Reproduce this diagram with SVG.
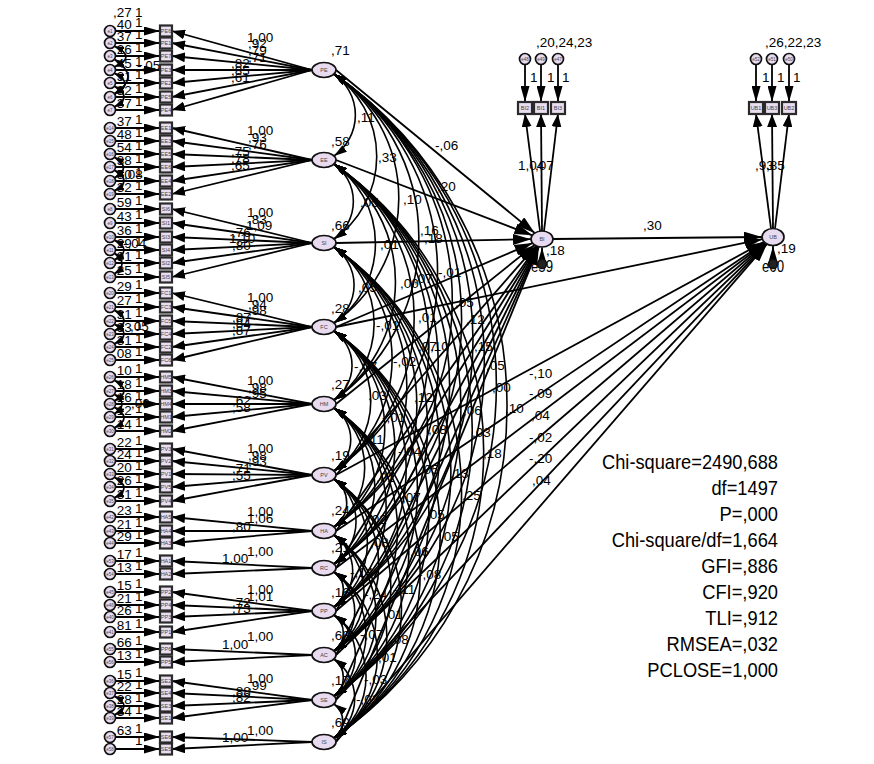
<svg xmlns="http://www.w3.org/2000/svg" width="874" height="764" viewBox="0 0 874 764">
<style>
  .ln path{stroke:#000;stroke-width:1.8;fill:none}
  #err-paths path{marker-end:url(#ahe)}
  #load-paths path{marker-end:url(#ahl)}
  #struct-paths path{marker-end:url(#ahb)}
  #cov-paths path{stroke-width:1.6;marker-start:url(#ahc);marker-end:url(#ahc)}
  #ecov-paths path{stroke-width:1.7;marker-start:url(#ahs);marker-end:url(#ahs)}
  .lat ellipse,.err circle{fill:#e8dbf0;stroke:#111;stroke-width:1.7}
  .obs rect{fill:#e9ddf0;stroke:#2a2a2a;stroke-width:2.2}
  .nt{font-family:"Liberation Sans",Arial,sans-serif;font-size:5.5px;fill:#444;text-anchor:middle}
  .et{font-family:"Liberation Sans",Arial,sans-serif;font-size:4.5px;fill:#444;text-anchor:middle}
  .lb text{font-family:"Liberation Sans Narrow","Arial Narrow","Liberation Sans",Arial,sans-serif;font-size:13.5px;fill:#000}
  .st text{font-family:"Liberation Sans",Arial,sans-serif;font-size:21px;fill:#000;text-anchor:end}
  .big{font-family:"Liberation Sans",Arial,sans-serif;font-size:17px;fill:#000}
</style>
<defs>
  <marker id="ahe" viewBox="0 0 16 9" refX="16" refY="4.5" markerWidth="16" markerHeight="9" markerUnits="userSpaceOnUse" orient="auto"><path d="M0,0L16,4.5L0,9z"/></marker>
  <marker id="ahl" viewBox="0 0 13 10" refX="13" refY="5" markerWidth="13" markerHeight="10" markerUnits="userSpaceOnUse" orient="auto"><path d="M0,0L13,5L0,10z"/></marker>
  <marker id="ahb" viewBox="0 0 18 11" refX="18" refY="5.5" markerWidth="18" markerHeight="11" markerUnits="userSpaceOnUse" orient="auto"><path d="M0,0L18,5.5L0,11z"/></marker>
  <marker id="ahc" viewBox="0 0 13 8" refX="13" refY="4" markerWidth="13" markerHeight="8" markerUnits="userSpaceOnUse" orient="auto-start-reverse"><path d="M0,0L13,4L0,8z"/></marker>
  <marker id="ahs" viewBox="0 0 10 7" refX="10" refY="3.5" markerWidth="10" markerHeight="7" markerUnits="userSpaceOnUse" orient="auto-start-reverse"><path d="M0,0L10,3.5L0,7z"/></marker>
</defs>
<rect width="874" height="764" fill="#fff"/>

<g id="connectors" class="ln">
  <!-- error terms into indicators -->
  <g id="err-paths">
    <path d="M115.5,31H160"/><path d="M115.5,43H160"/><path d="M115.5,56H160"/><path d="M115.5,70H160"/><path d="M115.5,83H160"/><path d="M115.5,97H160"/><path d="M115.5,110H160"/>
    <path d="M115.5,128H160"/><path d="M115.5,141H160"/><path d="M115.5,154H160"/><path d="M115.5,167H160"/><path d="M115.5,181H160"/><path d="M115.5,194H160"/>
    <path d="M115.5,209H160"/><path d="M115.5,223H160"/><path d="M115.5,237H160"/><path d="M115.5,250H160"/><path d="M115.5,263H160"/><path d="M115.5,277H160"/>
    <path d="M115.5,293H160"/><path d="M115.5,307H160"/><path d="M115.5,321H160"/><path d="M115.5,334H160"/><path d="M115.5,347H160"/><path d="M115.5,360H160"/>
    <path d="M115.5,377H160"/><path d="M115.5,391H160"/><path d="M115.5,404H160"/><path d="M115.5,417H160"/><path d="M115.5,431H160"/>
    <path d="M115.5,449H160"/><path d="M115.5,461H160"/><path d="M115.5,474H160"/><path d="M115.5,487H160"/><path d="M115.5,501H160"/>
    <path d="M115.5,517H160"/><path d="M115.5,531H160"/><path d="M115.5,543H160"/>
    <path d="M115.5,561H160"/><path d="M115.5,574H160"/>
    <path d="M115.5,592H160"/><path d="M115.5,605H160"/><path d="M115.5,617H160"/><path d="M115.5,632H160"/>
    <path d="M115.5,649H160"/><path d="M115.5,662H160"/>
    <path d="M115.5,681H160"/><path d="M115.5,693H160"/><path d="M115.5,706H160"/><path d="M115.5,718H160"/>
    <path d="M115.5,737H160"/><path d="M115.5,749H160"/>
    <path d="M525,64.5V102"/><path d="M541,64.5V102"/><path d="M558,64.5V102"/>
    <path d="M756,64.5V102"/><path d="M772,64.5V102"/><path d="M789,64.5V102"/>
    <path d="M542,259.5V247.5"/><path d="M773,259.5V246"/>
  </g>
  <!-- factor loadings -->
  <g id="load-paths">
    <path d="M312,70L172,31"/><path d="M312,70L172,43"/><path d="M312,70L172,56"/><path d="M312,70L172,70"/><path d="M312,70L172,83"/><path d="M312,70L172,97"/><path d="M312,70L172,110"/>
    <path d="M312,160L172,128"/><path d="M312,160L172,141"/><path d="M312,160L172,154"/><path d="M312,160L172,167"/><path d="M312,160L172,181"/><path d="M312,160L172,194"/>
    <path d="M312,243L172,209"/><path d="M312,243L172,223"/><path d="M312,243L172,237"/><path d="M312,243L172,250"/><path d="M312,243L172,263"/><path d="M312,243L172,277"/>
    <path d="M312,327L172,293"/><path d="M312,327L172,307"/><path d="M312,327L172,321"/><path d="M312,327L172,334"/><path d="M312,327L172,347"/><path d="M312,327L172,360"/>
    <path d="M312,404L172,377"/><path d="M312,404L172,391"/><path d="M312,404L172,404"/><path d="M312,404L172,417"/><path d="M312,404L172,431"/>
    <path d="M312,475L172,449"/><path d="M312,475L172,461"/><path d="M312,475L172,474"/><path d="M312,475L172,487"/><path d="M312,475L172,501"/>
    <path d="M312,531L172,517"/><path d="M312,531L172,531"/><path d="M312,531L172,543"/>
    <path d="M312,568L172,561"/><path d="M312,568L172,574"/>
    <path d="M312,611L172,592"/><path d="M312,611L172,605"/><path d="M312,611L172,617"/><path d="M312,611L172,632"/>
    <path d="M312,655L172,649"/><path d="M312,655L172,662"/>
    <path d="M312,700L172,681"/><path d="M312,700L172,693"/><path d="M312,700L172,706"/><path d="M312,700L172,718"/>
    <path d="M312,742L172,737"/><path d="M312,742L172,749"/>
    <path d="M540,231L525,114"/><path d="M542,231L541,114"/><path d="M544,231L558,114"/>
    <path d="M771,228.5L756,114"/><path d="M773,228.5L772,114"/><path d="M775,228.5L789,114"/>
  </g>
  <!-- structural paths -->
  <g id="struct-paths">
    <path d="M336,70L534.7,233"/><path d="M336,160L532.3,235.3"/><path d="M336,243L531,239.2"/><path d="M336,327L532.5,243.1"/>
    <path d="M336,404L534.6,244.9"/><path d="M336,475L536.1,245.8"/><path d="M336,531L537,246.1"/><path d="M336,568L537.4,246.3"/>
    <path d="M336,611L537.9,246.4"/><path d="M336,655L538.3,246.5"/><path d="M336,700L538.6,246.6"/><path d="M336,742L538.9,246.7"/>
    <path d="M336,327L762.4,239.2"/><path d="M336,475L764,241.9"/><path d="M336,531L764.7,242.6"/><path d="M336,568L765.1,243"/>
    <path d="M336,611L765.6,243.3"/><path d="M336,655L766.1,243.6"/><path d="M336,700L766.5,243.9"/><path d="M336,742L766.9,244.1"/>
    <path d="M553,239L762,237"/>
  </g>
  <!-- covariances among exogenous factors -->
  <g id="cov-paths">
    <path d="M334,74A50,50 0 0 1 334,156"/><path d="M334,74A101,101 0 0 1 334,239"/><path d="M334,74A152,152 0 0 1 334,323"/><path d="M334,74A199,199 0 0 1 334,400"/>
    <path d="M334,74A242,242 0 0 1 334,471"/><path d="M334,74A276,276 0 0 1 334,527"/><path d="M334,74A299,299 0 0 1 334,564"/><path d="M334,74A325,325 0 0 1 334,607"/>
    <path d="M334,74A352,352 0 0 1 334,651"/><path d="M334,74A379,379 0 0 1 334,696"/><path d="M334,74A405,405 0 0 1 334,738"/>
    <path d="M334,164A46,46 0 0 1 334,239"/><path d="M334,164A97,97 0 0 1 334,323"/><path d="M334,164A144,144 0 0 1 334,400"/><path d="M334,164A187,187 0 0 1 334,471"/>
    <path d="M334,164A221,221 0 0 1 334,527"/><path d="M334,164A244,244 0 0 1 334,564"/><path d="M334,164A270,270 0 0 1 334,607"/><path d="M334,164A297,297 0 0 1 334,651"/>
    <path d="M334,164A325,325 0 0 1 334,696"/><path d="M334,164A350,350 0 0 1 334,738"/>
    <path d="M334,247A46,46 0 0 1 334,323"/><path d="M334,247A93,93 0 0 1 334,400"/><path d="M334,247A137,137 0 0 1 334,471"/><path d="M334,247A171,171 0 0 1 334,527"/>
    <path d="M334,247A193,193 0 0 1 334,564"/><path d="M334,247A220,220 0 0 1 334,607"/><path d="M334,247A246,246 0 0 1 334,651"/><path d="M334,247A274,274 0 0 1 334,696"/>
    <path d="M334,247A300,300 0 0 1 334,738"/>
    <path d="M334,331A42,42 0 0 1 334,400"/><path d="M334,331A85,85 0 0 1 334,471"/><path d="M334,331A120,120 0 0 1 334,527"/><path d="M334,331A142,142 0 0 1 334,564"/>
    <path d="M334,331A168,168 0 0 1 334,607"/><path d="M334,331A195,195 0 0 1 334,651"/><path d="M334,331A223,223 0 0 1 334,696"/><path d="M334,331A248,248 0 0 1 334,738"/>
    <path d="M334,408A38,38 0 0 1 334,471"/><path d="M334,408A73,73 0 0 1 334,527"/><path d="M334,408A95,95 0 0 1 334,564"/><path d="M334,408A121,121 0 0 1 334,607"/>
    <path d="M334,408A148,148 0 0 1 334,651"/><path d="M334,408A176,176 0 0 1 334,696"/><path d="M334,408A201,201 0 0 1 334,738"/>
    <path d="M334,479A29,29 0 0 1 334,527"/><path d="M334,479A52,52 0 0 1 334,564"/><path d="M334,479A78,78 0 0 1 334,607"/><path d="M334,479A105,105 0 0 1 334,651"/>
    <path d="M334,479A132,132 0 0 1 334,696"/><path d="M334,479A158,158 0 0 1 334,738"/>
    <path d="M334,535A18,18 0 0 1 334,564"/><path d="M334,535A44,44 0 0 1 334,607"/><path d="M334,535A71,71 0 0 1 334,651"/><path d="M334,535A98,98 0 0 1 334,696"/>
    <path d="M334,535A124,124 0 0 1 334,738"/>
    <path d="M334,572A21,21 0 0 1 334,607"/><path d="M334,572A48,48 0 0 1 334,651"/><path d="M334,572A76,76 0 0 1 334,696"/><path d="M334,572A101,101 0 0 1 334,738"/>
    <path d="M334,615A22,22 0 0 1 334,651"/><path d="M334,615A49,49 0 0 1 334,696"/><path d="M334,615A75,75 0 0 1 334,738"/>
    <path d="M334,659A23,23 0 0 1 334,696"/><path d="M334,659A48,48 0 0 1 334,738"/>
    <path d="M334,704A21,21 0 0 1 334,738"/>
  </g>
  <!-- correlated error terms -->
  <g id="ecov-paths">
    <path d="M114,46Q138,57 114,67"/><path d="M114,59Q142,77 114,94"/><path d="M114,73Q136,84 114,94"/><path d="M114,86Q134,97 114,107"/>
    <path d="M114,157Q133,168 114,178"/><path d="M114,170Q134,181 114,191"/>
    <path d="M114,240Q134,250 114,260"/><path d="M114,253Q130,264 114,274"/>
    <path d="M114,310Q134,321 114,331"/><path d="M114,324Q134,334 114,344"/>
    <path d="M114,380Q134,391 114,401"/><path d="M114,394Q130,404 114,414"/><path d="M114,407Q134,418 114,428"/>
    <path d="M114,477Q134,488 114,498"/>
    <path d="M114,696Q134,706 114,715"/>
  </g>
</g>

<g id="labels" class="lb">
  <!-- error variances and fixed weights -->
  <text x="113" y="17">,27</text><text x="135" y="17">1</text>
  <text x="113" y="29">,40</text><text x="113" y="41">,37</text><text x="113" y="54">,26</text><text x="113" y="68">,45</text><text x="113" y="81">,31</text><text x="113" y="95">,32</text><text x="113" y="108">,37</text>
  <text x="113" y="126">,37</text><text x="113" y="139">,48</text><text x="113" y="152">,54</text><text x="113" y="165">,38</text><text x="113" y="179">,50</text><text x="113" y="192">,32</text>
  <text x="113" y="207">,59</text><text x="113" y="221">,43</text><text x="113" y="235">,36</text><text x="113" y="248">,29</text><text x="113" y="261">,31</text><text x="113" y="275">,25</text>
  <text x="113" y="291">,29</text><text x="113" y="305">,27</text><text x="113" y="319">,31</text><text x="113" y="332">,33</text><text x="113" y="345">,31</text><text x="113" y="358">,08</text>
  <text x="113" y="375">,10</text><text x="113" y="389">,18</text><text x="113" y="402">,16</text><text x="113" y="415">,12</text><text x="113" y="429">,14</text>
  <text x="113" y="447">,22</text><text x="113" y="459">,24</text><text x="113" y="472">,20</text><text x="113" y="485">,26</text><text x="113" y="499">,31</text>
  <text x="113" y="515">,23</text><text x="113" y="529">,21</text><text x="113" y="541">,29</text>
  <text x="113" y="559">,17</text><text x="113" y="572">,13</text>
  <text x="113" y="590">,15</text><text x="113" y="603">,21</text><text x="113" y="615">,26</text><text x="113" y="630">,81</text>
  <text x="113" y="647">,66</text><text x="113" y="660">,13</text>
  <text x="113" y="679">,15</text><text x="113" y="691">,22</text><text x="113" y="704">,28</text><text x="113" y="716">,34</text>
  <text x="113" y="735">,63</text>
  <text x="135" y="27">1</text><text x="135" y="39">1</text><text x="135" y="52">1</text><text x="135" y="66">1</text><text x="135" y="79">1</text><text x="135" y="93">1</text><text x="135" y="106">1</text>
  <text x="135" y="124">1</text><text x="135" y="137">1</text><text x="135" y="150">1</text><text x="135" y="163">1</text><text x="135" y="177">1</text><text x="135" y="190">1</text>
  <text x="135" y="205">1</text><text x="135" y="219">1</text><text x="135" y="233">1</text><text x="135" y="246">1</text><text x="135" y="259">1</text><text x="135" y="273">1</text>
  <text x="135" y="289">1</text><text x="135" y="303">1</text><text x="135" y="317">1</text><text x="135" y="330">1</text><text x="135" y="343">1</text><text x="135" y="356">1</text>
  <text x="135" y="373">1</text><text x="135" y="387">1</text><text x="135" y="400">1</text><text x="135" y="413">1</text><text x="135" y="427">1</text>
  <text x="135" y="445">1</text><text x="135" y="457">1</text><text x="135" y="470">1</text><text x="135" y="483">1</text><text x="135" y="497">1</text>
  <text x="135" y="513">1</text><text x="135" y="527">1</text><text x="135" y="539">1</text>
  <text x="135" y="557">1</text><text x="135" y="570">1</text>
  <text x="135" y="588">1</text><text x="135" y="601">1</text><text x="135" y="613">1</text><text x="135" y="628">1</text>
  <text x="135" y="645">1</text><text x="135" y="658">1</text>
  <text x="135" y="677">1</text><text x="135" y="689">1</text><text x="135" y="702">1</text><text x="135" y="714">1</text>
  <text x="135" y="733">1</text><text x="135" y="745">1</text>
  <!-- error covariances -->
  <text x="137" y="70">-,05</text><text x="124" y="179">,08</text><text x="123" y="248">-,04</text><text x="130" y="331">,05</text><text x="131" y="408">,00</text>
  <!-- loadings -->
  <text x="247" y="42">1,00</text><text x="248" y="48">,92</text><text x="248" y="55">,79</text><text x="248" y="62">,71</text><text x="231" y="68">,82</text><text x="231" y="75">,85</text><text x="231" y="82">,61</text>
  <text x="247" y="135">1,00</text><text x="248" y="142">,93</text><text x="248" y="149">,76</text><text x="231" y="156">,75</text><text x="231" y="163">,78</text><text x="231" y="170">,65</text>
  <text x="247" y="217">1,00</text><text x="248" y="224">,83</text><text x="246" y="230">1,09</text><text x="232" y="237">,76</text><text x="229" y="243">1,10</text><text x="232" y="250">,80</text>
  <text x="247" y="302">1,00</text><text x="248" y="309">,94</text><text x="248" y="315">,98</text><text x="232" y="322">,87</text><text x="232" y="328">,84</text><text x="232" y="335">,87</text>
  <text x="247" y="385">1,00</text><text x="248" y="392">,98</text><text x="248" y="398">,95</text><text x="232" y="405">,62</text><text x="232" y="412">,58</text>
  <text x="247" y="453">1,00</text><text x="248" y="460">,98</text><text x="248" y="466">,93</text><text x="232" y="473">,71</text><text x="232" y="480">,55</text>
  <text x="247" y="516">1,00</text><text x="247" y="523">1,06</text><text x="232" y="531">,80</text>
  <text x="247" y="556">1,00</text><text x="222" y="563">1,00</text>
  <text x="247" y="594">1,00</text><text x="247" y="601">1,01</text><text x="232" y="607">,72</text><text x="232" y="613">,73</text>
  <text x="247" y="641">1,00</text><text x="222" y="649">1,00</text>
  <text x="247" y="683">1,00</text><text x="248" y="690">,99</text><text x="232" y="696">,88</text><text x="232" y="702">,82</text>
  <text x="247" y="735">1,00</text><text x="222" y="742">1,00</text>
  <!-- factor variances -->
  <text x="331" y="55">,71</text><text x="331" y="146">,58</text><text x="331" y="230">,66</text><text x="331" y="313">,28</text><text x="331" y="389">,27</text><text x="331" y="460">,19</text>
  <text x="331" y="515">,24</text><text x="331" y="552">,21</text><text x="331" y="597">,16</text><text x="331" y="640">,68</text><text x="331" y="685">,17</text><text x="331" y="727">,69</text>
  <!-- covariances and path coefficients -->
  <text x="357" y="122">,11</text><text x="378" y="162">,33</text><text x="435" y="150">-,06</text><text x="360" y="207">,05</text><text x="403" y="204">,10</text><text x="437" y="191">,20</text>
  <text x="420" y="235">,16</text><text x="424" y="243">,18</text><text x="380" y="249">,01</text><text x="400" y="288">,00</text><text x="414" y="283">,07</text><text x="438" y="277">-,01</text>
  <text x="455" y="307">,05</text><text x="358" y="292">,05</text><text x="418" y="322">,01</text><text x="376" y="330">-,01</text><text x="466" y="324">,12</text><text x="354" y="371">-,07</text>
  <text x="418" y="351">,07</text><text x="430" y="351">,10</text><text x="393" y="366">-,02</text><text x="474" y="351">,15</text><text x="486" y="370">,05</text><text x="492" y="392">,00</text>
  <text x="505" y="413">,10</text><text x="463" y="415">,06</text><text x="472" y="437">,03</text><text x="483" y="458">,18</text><text x="450" y="478">,13</text><text x="462" y="500">,25</text>
  <text x="368" y="400">,03</text><text x="414" y="402">,12</text><text x="382" y="422">-,01</text><text x="428" y="434">,08</text><text x="366" y="444">,11</text><text x="398" y="456">-,04</text>
  <text x="420" y="474">,05</text><text x="376" y="482">,01</text><text x="402" y="502">,07</text><text x="368" y="524">,02</text><text x="426" y="519">,05</text><text x="440" y="541">,05</text>
  <text x="410" y="556">,06</text><text x="418" y="579">-,08</text><text x="370" y="547">,08</text><text x="350" y="577">-,14</text><text x="364" y="599">-,24</text><text x="393" y="594">-,11</text>
  <text x="384" y="619">,01</text><text x="360" y="639">-,07</text><text x="390" y="644">,08</text><text x="378" y="662">,01</text><text x="364" y="684">-,03</text><text x="356" y="704">-,03</text>
  <text x="529" y="378">-,10</text><text x="529" y="398">-,09</text><text x="531" y="420">,04</text><text x="529" y="442">-,02</text><text x="529" y="463">-,20</text><text x="532" y="485">,04</text>
  <text x="643" y="230">,30</text>
  <!-- endogenous part -->
  <text x="536" y="47">,20,24,23</text><text x="530" y="82">1</text><text x="547" y="82">1</text><text x="562" y="82">1</text>
  <text x="518" y="170">1,04</text><text x="535" y="170">,07</text>
  <text x="546" y="255">,18</text>
  <text x="765" y="47">,26,22,23</text><text x="762" y="82">1</text><text x="777" y="82">1</text><text x="793" y="82">1</text>
  <text x="755" y="170">,93</text><text x="766" y="170">,85</text>
  <text x="777" y="253">,19</text>
  <text class="big" x="531" y="272" textLength="22" lengthAdjust="spacingAndGlyphs" style="font-size:17px">e59</text>
  <text class="big" x="762" y="272" textLength="22" lengthAdjust="spacingAndGlyphs" style="font-size:17px">e60</text>
</g>

<g id="fit-stats" class="st">
  <text x="778" y="469" textLength="176" lengthAdjust="spacingAndGlyphs">Chi-square=2490,688</text>
  <text x="778" y="495" textLength="66.6" lengthAdjust="spacingAndGlyphs">df=1497</text>
  <text x="778" y="521" textLength="58.5" lengthAdjust="spacingAndGlyphs">P=,000</text>
  <text x="778" y="547" textLength="166.3" lengthAdjust="spacingAndGlyphs">Chi-square/df=1,664</text>
  <text x="778" y="573" textLength="76.8" lengthAdjust="spacingAndGlyphs">GFI=,886</text>
  <text x="778" y="599" textLength="75.8" lengthAdjust="spacingAndGlyphs">CFI=,920</text>
  <text x="778" y="625" textLength="72.7" lengthAdjust="spacingAndGlyphs">TLI=,912</text>
  <text x="778" y="651" textLength="111.4" lengthAdjust="spacingAndGlyphs">RMSEA=,032</text>
  <text x="778" y="677" textLength="130.7" lengthAdjust="spacingAndGlyphs">PCLOSE=1,000</text>
</g>

<g id="nodes">
  <!-- latent factors -->
  <g id="PE" class="lat"><ellipse cx="324" cy="70" rx="12" ry="7.5"/><text class="nt" x="324" y="72">PE</text></g>
  <g id="EE" class="lat"><ellipse cx="324" cy="160" rx="12" ry="7.5"/><text class="nt" x="324" y="162">EE</text></g>
  <g id="SI" class="lat"><ellipse cx="324" cy="243" rx="12" ry="7.5"/><text class="nt" x="324" y="245">SI</text></g>
  <g id="FC" class="lat"><ellipse cx="324" cy="327" rx="12" ry="7.5"/><text class="nt" x="324" y="329">FC</text></g>
  <g id="HM" class="lat"><ellipse cx="324" cy="404" rx="12" ry="7.5"/><text class="nt" x="324" y="406">HM</text></g>
  <g id="PV" class="lat"><ellipse cx="324" cy="475" rx="12" ry="7.5"/><text class="nt" x="324" y="477">PV</text></g>
  <g id="HA" class="lat"><ellipse cx="324" cy="531" rx="12" ry="7.5"/><text class="nt" x="324" y="533">HA</text></g>
  <g id="RC" class="lat"><ellipse cx="324" cy="568" rx="12" ry="7.5"/><text class="nt" x="324" y="570">RC</text></g>
  <g id="PP" class="lat"><ellipse cx="324" cy="611" rx="12" ry="7.5"/><text class="nt" x="324" y="613">PP</text></g>
  <g id="AC" class="lat"><ellipse cx="324" cy="655" rx="12" ry="7.5"/><text class="nt" x="324" y="657">AC</text></g>
  <g id="SE" class="lat"><ellipse cx="324" cy="700" rx="12" ry="7.5"/><text class="nt" x="324" y="702">SE</text></g>
  <g id="IS" class="lat"><ellipse cx="324" cy="742" rx="12" ry="7.5"/><text class="nt" x="324" y="744">IS</text></g>
  <g id="BI" class="lat"><ellipse cx="542" cy="239" rx="11" ry="8"/><text class="nt" x="542" y="241">BI</text></g>
  <g id="UB" class="lat"><ellipse cx="773" cy="237" rx="11" ry="8.5"/><text class="nt" x="773" y="239">UB</text></g>

  <!-- observed indicators -->
  <g id="PE6" class="obs"><rect x="160" y="25.5" width="12" height="11"/><text class="nt" x="166" y="33">PE6</text></g>
  <g id="PE1" class="obs"><rect x="160" y="37.5" width="12" height="11"/><text class="nt" x="166" y="45">PE1</text></g>
  <g id="PE7" class="obs"><rect x="160" y="50.5" width="12" height="11"/><text class="nt" x="166" y="58">PE7</text></g>
  <g id="PE3" class="obs"><rect x="160" y="64.5" width="12" height="11"/><text class="nt" x="166" y="72">PE3</text></g>
  <g id="PE2" class="obs"><rect x="160" y="77.5" width="12" height="11"/><text class="nt" x="166" y="85">PE2</text></g>
  <g id="PE5" class="obs"><rect x="160" y="91.5" width="12" height="11"/><text class="nt" x="166" y="99">PE5</text></g>
  <g id="PE4" class="obs"><rect x="160" y="104.5" width="12" height="11"/><text class="nt" x="166" y="112">PE4</text></g>
  <g id="EE1" class="obs"><rect x="160" y="122.5" width="12" height="11"/><text class="nt" x="166" y="130">EE1</text></g>
  <g id="EE3" class="obs"><rect x="160" y="135.5" width="12" height="11"/><text class="nt" x="166" y="143">EE3</text></g>
  <g id="EE5" class="obs"><rect x="160" y="148.5" width="12" height="11"/><text class="nt" x="166" y="156">EE5</text></g>
  <g id="EE6" class="obs"><rect x="160" y="161.5" width="12" height="11"/><text class="nt" x="166" y="169">EE6</text></g>
  <g id="EE4" class="obs"><rect x="160" y="175.5" width="12" height="11"/><text class="nt" x="166" y="183">EE4</text></g>
  <g id="EE2" class="obs"><rect x="160" y="188.5" width="12" height="11"/><text class="nt" x="166" y="196">EE2</text></g>
  <g id="SI6" class="obs"><rect x="160" y="203.5" width="12" height="11"/><text class="nt" x="166" y="211">SI6</text></g>
  <g id="SI1" class="obs"><rect x="160" y="217.5" width="12" height="11"/><text class="nt" x="166" y="225">SI1</text></g>
  <g id="SI3" class="obs"><rect x="160" y="231.5" width="12" height="11"/><text class="nt" x="166" y="239">SI3</text></g>
  <g id="SI4" class="obs"><rect x="160" y="244.5" width="12" height="11"/><text class="nt" x="166" y="252">SI4</text></g>
  <g id="SI2" class="obs"><rect x="160" y="257.5" width="12" height="11"/><text class="nt" x="166" y="265">SI2</text></g>
  <g id="SI5" class="obs"><rect x="160" y="271.5" width="12" height="11"/><text class="nt" x="166" y="279">SI5</text></g>
  <g id="FC1" class="obs"><rect x="160" y="287.5" width="12" height="11"/><text class="nt" x="166" y="295">FC1</text></g>
  <g id="FC3" class="obs"><rect x="160" y="301.5" width="12" height="11"/><text class="nt" x="166" y="309">FC3</text></g>
  <g id="FC5" class="obs"><rect x="160" y="315.5" width="12" height="11"/><text class="nt" x="166" y="323">FC5</text></g>
  <g id="FC4" class="obs"><rect x="160" y="328.5" width="12" height="11"/><text class="nt" x="166" y="336">FC4</text></g>
  <g id="FC2" class="obs"><rect x="160" y="341.5" width="12" height="11"/><text class="nt" x="166" y="349">FC2</text></g>
  <g id="FC6" class="obs"><rect x="160" y="354.5" width="12" height="11"/><text class="nt" x="166" y="362">FC6</text></g>
  <g id="HM5" class="obs"><rect x="160" y="371.5" width="12" height="11"/><text class="nt" x="166" y="379">HM5</text></g>
  <g id="HM3" class="obs"><rect x="160" y="385.5" width="12" height="11"/><text class="nt" x="166" y="393">HM3</text></g>
  <g id="HM4" class="obs"><rect x="160" y="398.5" width="12" height="11"/><text class="nt" x="166" y="406">HM4</text></g>
  <g id="HM1" class="obs"><rect x="160" y="411.5" width="12" height="11"/><text class="nt" x="166" y="419">HM1</text></g>
  <g id="HM2" class="obs"><rect x="160" y="425.5" width="12" height="11"/><text class="nt" x="166" y="433">HM2</text></g>
  <g id="PV3" class="obs"><rect x="160" y="443.5" width="12" height="11"/><text class="nt" x="166" y="451">PV3</text></g>
  <g id="PV2" class="obs"><rect x="160" y="455.5" width="12" height="11"/><text class="nt" x="166" y="463">PV2</text></g>
  <g id="PV1" class="obs"><rect x="160" y="468.5" width="12" height="11"/><text class="nt" x="166" y="476">PV1</text></g>
  <g id="PV5" class="obs"><rect x="160" y="481.5" width="12" height="11"/><text class="nt" x="166" y="489">PV5</text></g>
  <g id="PV4" class="obs"><rect x="160" y="495.5" width="12" height="11"/><text class="nt" x="166" y="503">PV4</text></g>
  <g id="HA5" class="obs"><rect x="160" y="511.5" width="12" height="11"/><text class="nt" x="166" y="519">HA5</text></g>
  <g id="HA4" class="obs"><rect x="160" y="525.5" width="12" height="11"/><text class="nt" x="166" y="533">HA4</text></g>
  <g id="HA3" class="obs"><rect x="160" y="537.5" width="12" height="11"/><text class="nt" x="166" y="545">HA3</text></g>
  <g id="HA1" class="obs"><rect x="160" y="555.5" width="12" height="11"/><text class="nt" x="166" y="563">HA1</text></g>
  <g id="HA2" class="obs"><rect x="160" y="568.5" width="12" height="11"/><text class="nt" x="166" y="576">HA2</text></g>
  <g id="PP2" class="obs"><rect x="160" y="586.5" width="12" height="11"/><text class="nt" x="166" y="594">PP2</text></g>
  <g id="PP4" class="obs"><rect x="160" y="599.5" width="12" height="11"/><text class="nt" x="166" y="607">PP4</text></g>
  <g id="PP3" class="obs"><rect x="160" y="611.5" width="12" height="11"/><text class="nt" x="166" y="619">PP3</text></g>
  <g id="PP1" class="obs"><rect x="160" y="626.5" width="12" height="11"/><text class="nt" x="166" y="634">PP1</text></g>
  <g id="PP6" class="obs"><rect x="160" y="643.5" width="12" height="11"/><text class="nt" x="166" y="651">PP6</text></g>
  <g id="PP5" class="obs"><rect x="160" y="656.5" width="12" height="11"/><text class="nt" x="166" y="664">PP5</text></g>
  <g id="SE2" class="obs"><rect x="160" y="675.5" width="12" height="11"/><text class="nt" x="166" y="683">SE2</text></g>
  <g id="SE4" class="obs"><rect x="160" y="687.5" width="12" height="11"/><text class="nt" x="166" y="695">SE4</text></g>
  <g id="SE3" class="obs"><rect x="160" y="700.5" width="12" height="11"/><text class="nt" x="166" y="708">SE3</text></g>
  <g id="SE1" class="obs"><rect x="160" y="712.5" width="12" height="11"/><text class="nt" x="166" y="720">SE1</text></g>
  <g id="SE6" class="obs"><rect x="160" y="731.5" width="12" height="11"/><text class="nt" x="166" y="739">SE6</text></g>
  <g id="SE5" class="obs"><rect x="160" y="743.5" width="12" height="11"/><text class="nt" x="166" y="751">SE5</text></g>
  <g id="BI2" class="obs"><rect x="518" y="102" width="14" height="12"/><text class="nt" x="525" y="110">BI2</text></g>
  <g id="BI1" class="obs"><rect x="534" y="102" width="14" height="12"/><text class="nt" x="541" y="110">BI1</text></g>
  <g id="BI3" class="obs"><rect x="551" y="102" width="14" height="12"/><text class="nt" x="558" y="110">BI3</text></g>
  <g id="UB1" class="obs"><rect x="749" y="102" width="14" height="12"/><text class="nt" x="756" y="110">UB1</text></g>
  <g id="UB3" class="obs"><rect x="765" y="102" width="14" height="12"/><text class="nt" x="772" y="110">UB3</text></g>
  <g id="UB2" class="obs"><rect x="782" y="102" width="14" height="12"/><text class="nt" x="789" y="110">UB2</text></g>

  <!-- error terms -->
  <g id="e1" class="err"><circle cx="110" cy="31" r="5.5"/><text class="et" x="110" y="32.6">e1</text></g>
  <g id="e2" class="err"><circle cx="110" cy="43" r="5.5"/><text class="et" x="110" y="44.6">e2</text></g>
  <g id="e3" class="err"><circle cx="110" cy="56" r="5.5"/><text class="et" x="110" y="57.6">e3</text></g>
  <g id="e4" class="err"><circle cx="110" cy="70" r="5.5"/><text class="et" x="110" y="71.6">e4</text></g>
  <g id="e5" class="err"><circle cx="110" cy="83" r="5.5"/><text class="et" x="110" y="84.6">e5</text></g>
  <g id="e6" class="err"><circle cx="110" cy="97" r="5.5"/><text class="et" x="110" y="98.6">e6</text></g>
  <g id="e7" class="err"><circle cx="110" cy="110" r="5.5"/><text class="et" x="110" y="111.6">e7</text></g>
  <g id="e14" class="err"><circle cx="110" cy="128" r="5.5"/><text class="et" x="110" y="129.6">e14</text></g>
  <g id="e15" class="err"><circle cx="110" cy="141" r="5.5"/><text class="et" x="110" y="142.6">e15</text></g>
  <g id="e16" class="err"><circle cx="110" cy="154" r="5.5"/><text class="et" x="110" y="155.6">e16</text></g>
  <g id="e17" class="err"><circle cx="110" cy="167" r="5.5"/><text class="et" x="110" y="168.6">e17</text></g>
  <g id="e18" class="err"><circle cx="110" cy="181" r="5.5"/><text class="et" x="110" y="182.6">e18</text></g>
  <g id="e19" class="err"><circle cx="110" cy="194" r="5.5"/><text class="et" x="110" y="195.6">e19</text></g>
  <g id="e8" class="err"><circle cx="110" cy="209" r="5.5"/><text class="et" x="110" y="210.6">e8</text></g>
  <g id="e9" class="err"><circle cx="110" cy="223" r="5.5"/><text class="et" x="110" y="224.6">e9</text></g>
  <g id="e10" class="err"><circle cx="110" cy="237" r="5.5"/><text class="et" x="110" y="238.6">e10</text></g>
  <g id="e11" class="err"><circle cx="110" cy="250" r="5.5"/><text class="et" x="110" y="251.6">e11</text></g>
  <g id="e12" class="err"><circle cx="110" cy="263" r="5.5"/><text class="et" x="110" y="264.6">e12</text></g>
  <g id="e13" class="err"><circle cx="110" cy="277" r="5.5"/><text class="et" x="110" y="278.6">e13</text></g>
  <g id="e20" class="err"><circle cx="110" cy="293" r="5.5"/><text class="et" x="110" y="294.6">e20</text></g>
  <g id="e21" class="err"><circle cx="110" cy="307" r="5.5"/><text class="et" x="110" y="308.6">e21</text></g>
  <g id="e22" class="err"><circle cx="110" cy="321" r="5.5"/><text class="et" x="110" y="322.6">e22</text></g>
  <g id="e23" class="err"><circle cx="110" cy="334" r="5.5"/><text class="et" x="110" y="335.6">e23</text></g>
  <g id="e24" class="err"><circle cx="110" cy="347" r="5.5"/><text class="et" x="110" y="348.6">e24</text></g>
  <g id="e25" class="err"><circle cx="110" cy="360" r="5.5"/><text class="et" x="110" y="361.6">e25</text></g>
  <g id="e26" class="err"><circle cx="110" cy="377" r="5.5"/><text class="et" x="110" y="378.6">e26</text></g>
  <g id="e27" class="err"><circle cx="110" cy="391" r="5.5"/><text class="et" x="110" y="392.6">e27</text></g>
  <g id="e28" class="err"><circle cx="110" cy="404" r="5.5"/><text class="et" x="110" y="405.6">e28</text></g>
  <g id="e29" class="err"><circle cx="110" cy="417" r="5.5"/><text class="et" x="110" y="418.6">e29</text></g>
  <g id="e30" class="err"><circle cx="110" cy="431" r="5.5"/><text class="et" x="110" y="432.6">e30</text></g>
  <g id="e31" class="err"><circle cx="110" cy="449" r="5.5"/><text class="et" x="110" y="450.6">e31</text></g>
  <g id="e32" class="err"><circle cx="110" cy="461" r="5.5"/><text class="et" x="110" y="462.6">e32</text></g>
  <g id="e33" class="err"><circle cx="110" cy="474" r="5.5"/><text class="et" x="110" y="475.6">e33</text></g>
  <g id="e34" class="err"><circle cx="110" cy="487" r="5.5"/><text class="et" x="110" y="488.6">e34</text></g>
  <g id="e35" class="err"><circle cx="110" cy="501" r="5.5"/><text class="et" x="110" y="502.6">e35</text></g>
  <g id="e42" class="err"><circle cx="110" cy="517" r="5.5"/><text class="et" x="110" y="518.6">e42</text></g>
  <g id="e43" class="err"><circle cx="110" cy="531" r="5.5"/><text class="et" x="110" y="532.6">e43</text></g>
  <g id="e44" class="err"><circle cx="110" cy="543" r="5.5"/><text class="et" x="110" y="544.6">e44</text></g>
  <g id="e53" class="err"><circle cx="110" cy="561" r="5.5"/><text class="et" x="110" y="562.6">e53</text></g>
  <g id="e54" class="err"><circle cx="110" cy="574" r="5.5"/><text class="et" x="110" y="575.6">e54</text></g>
  <g id="e45" class="err"><circle cx="110" cy="592" r="5.5"/><text class="et" x="110" y="593.6">e45</text></g>
  <g id="e46" class="err"><circle cx="110" cy="605" r="5.5"/><text class="et" x="110" y="606.6">e46</text></g>
  <g id="e40" class="err"><circle cx="110" cy="617" r="5.5"/><text class="et" x="110" y="618.6">e40</text></g>
  <g id="e41" class="err"><circle cx="110" cy="632" r="5.5"/><text class="et" x="110" y="633.6">e41</text></g>
  <g id="e55" class="err"><circle cx="110" cy="649" r="5.5"/><text class="et" x="110" y="650.6">e55</text></g>
  <g id="e56" class="err"><circle cx="110" cy="662" r="5.5"/><text class="et" x="110" y="663.6">e56</text></g>
  <g id="e36" class="err"><circle cx="110" cy="681" r="5.5"/><text class="et" x="110" y="682.6">e36</text></g>
  <g id="e37" class="err"><circle cx="110" cy="693" r="5.5"/><text class="et" x="110" y="694.6">e37</text></g>
  <g id="e38" class="err"><circle cx="110" cy="706" r="5.5"/><text class="et" x="110" y="707.6">e38</text></g>
  <g id="e39" class="err"><circle cx="110" cy="718" r="5.5"/><text class="et" x="110" y="719.6">e39</text></g>
  <g id="e57" class="err"><circle cx="110" cy="737" r="5.5"/><text class="et" x="110" y="738.6">e57</text></g>
  <g id="e58" class="err"><circle cx="110" cy="749" r="5.5"/><text class="et" x="110" y="750.6">e58</text></g>
  <g id="e48" class="err"><circle cx="525" cy="59" r="5.5"/><text class="et" x="525" y="60.6">e48</text></g>
  <g id="e49" class="err"><circle cx="541" cy="59" r="5.5"/><text class="et" x="541" y="60.6">e49</text></g>
  <g id="e47" class="err"><circle cx="558" cy="59" r="5.5"/><text class="et" x="558" y="60.6">e47</text></g>
  <g id="e52" class="err"><circle cx="756" cy="59" r="5.5"/><text class="et" x="756" y="60.6">e52</text></g>
  <g id="e51" class="err"><circle cx="772" cy="59" r="5.5"/><text class="et" x="772" y="60.6">e51</text></g>
  <g id="e50" class="err"><circle cx="789" cy="59" r="5.5"/><text class="et" x="789" y="60.6">e50</text></g>
  <g id="e59" class="err"><circle cx="542" cy="264" r="4.5" style="fill:#222"/></g>
  <g id="e60" class="err"><circle cx="773" cy="264" r="4.5" style="fill:#222"/></g>
</g>
</svg>
